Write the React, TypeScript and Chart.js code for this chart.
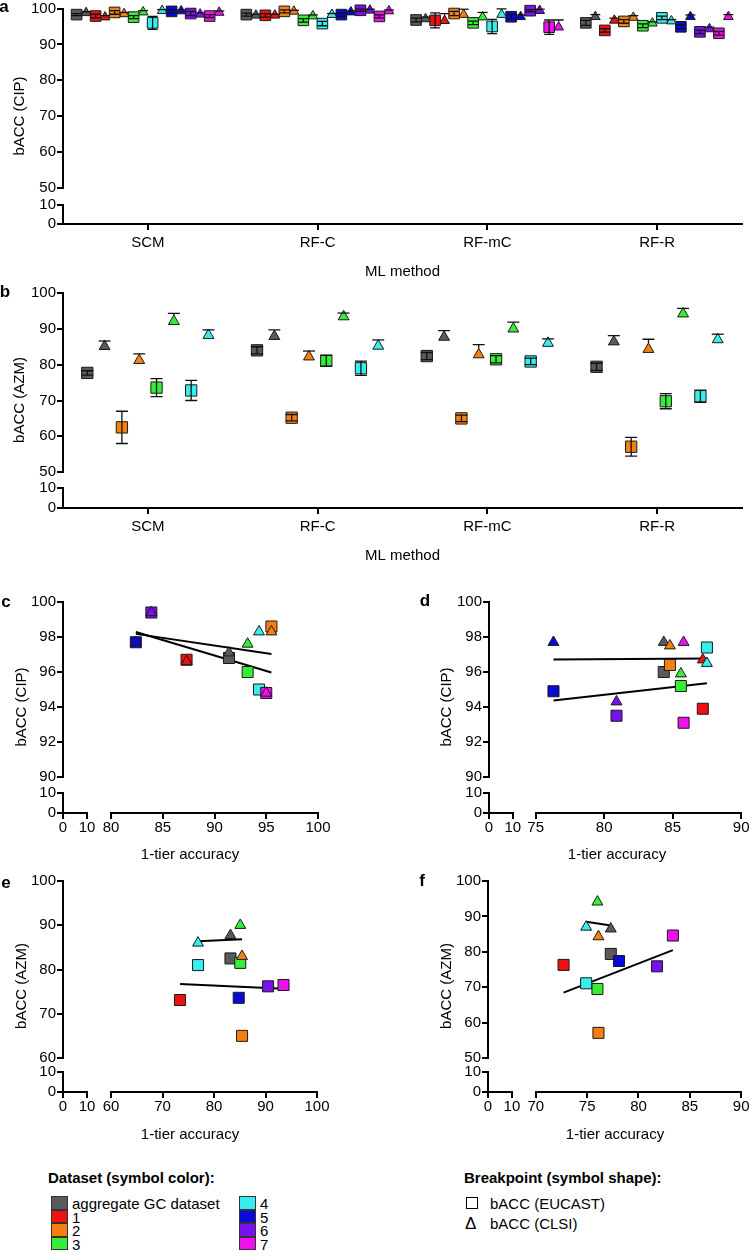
import React, { useEffect, useRef } from 'react';
import { Chart, registerables } from 'chart.js';

Chart.register(...registerables);

const FONT = 'Arial, "Liberation Sans", Helvetica, sans-serif';

// ---------------- data ----------------
const datasetNames = ['aggregate GC dataset', '1', '2', '3', '4', '5', '6', '7'];
const datasetColors = ['#5a5a5a', '#ee1111', '#f58010', '#36ee36', '#36eeee', '#0a0ad8', '#7a10ee', '#ee10ee'];
const methods = ['SCM', 'RF-C', 'RF-mC', 'RF-R'];

// Panel a: bACC (CIP); rows = ML method, columns = dataset
const cipEucast = [
  [98.3, 97.9, 98.9, 97.6, 96.0, 99.2, 98.6, 97.9],
  [98.3, 98.1, 99.2, 96.7, 95.8, 98.3, 99.5, 97.8],
  [96.8, 96.7, 98.6, 96.0, 95.0, 97.7, 99.4, 94.8],
  [96.0, 93.9, 96.4, 95.2, 97.4, 94.9, 93.5, 93.1],
];
const cipEucastSd = [
  [0.3, 0.5, 0.5, 0.4, 1.8, 0.4, 0.6, 0.4],
  [0.4, 0.5, 0.4, 0.5, 0.6, 0.5, 0.3, 0.4],
  [0.5, 2.1, 0.6, 0.5, 2.0, 0.6, 0.3, 2.0],
  [0.7, 0.5, 0.5, 0.5, 0.5, 0.5, 0.5, 0.5],
];
const cipClsi = [
  [98.8, 97.6, 98.5, 99.0, 99.4, 99.3, 98.4, 98.9],
  [98.1, 98.1, 99.2, 97.9, 98.3, 99.0, 99.5, 99.3],
  [97.1, 96.6, 98.3, 97.6, 98.3, 97.7, 99.4, 94.8],
  [97.7, 96.7, 97.5, 95.9, 96.5, 97.7, 94.3, 97.7],
];
const cipClsiSd = [
  [0.3, 0.4, 0.4, 0.4, 0.3, 0.3, 0.4, 0.4],
  [0.3, 0.3, 0.3, 0.3, 0.3, 0.3, 0.3, 0.3],
  [0.5, 2.0, 1.5, 1.3, 1.6, 0.5, 0.4, 2.0],
  [0.6, 0.6, 0.5, 0.4, 0.4, 0.5, 0.5, 0.6],
];

// Panel b: bACC (AZM); datasets shown = aggregate, 2, 3, 4
const azmDatasetIdx = [0, 2, 3, 4];
const azmEucast = [
  [77.7, 62.5, 73.6, 72.8],
  [84.0, 65.2, 81.1, 79.0],
  [82.4, 65.0, 81.5, 80.9],
  [79.4, 57.1, 69.8, 71.2],
];
const azmEucastSd = [
  [0.6, 4.5, 2.5, 2.8],
  [1.0, 0.9, 1.5, 2.0],
  [1.0, 0.9, 1.0, 0.9],
  [1.0, 2.6, 2.1, 1.7],
];
const azmClsi = [
  [85.1, 81.2, 92.1, 88.2],
  [87.9, 82.2, 93.4, 85.2],
  [87.7, 82.8, 90.0, 86.0],
  [86.4, 84.3, 94.2, 87.0],
];
const azmClsiSd = [
  [1.5, 1.8, 2.2, 1.5],
  [1.8, 1.6, 1.0, 1.7],
  [1.8, 2.8, 1.9, 1.2],
  [1.7, 2.8, 1.5, 1.5],
];

// Panels c-f: 1-tier accuracy per dataset
const cAccuracy = [91.4, 87.3, 95.5, 93.2, 94.3, 82.4, 83.9, 95.0]; // CIP, RF-mC
const dAccuracy = [84.35, 87.2, 84.8, 85.6, 87.5, 76.3, 80.9, 85.8]; // CIP, RF-R
const eAccuracy = [83.2, 73.4, 85.45, 85.1, 76.9, 84.8, 90.5, 93.5]; // AZM, RF-mC
const eEucast = [82.5, 73.1, 65.0, 81.5, 81.0, 73.6, 76.2, 76.5];
const eClsi = [87.7, null, 83.0, 90.0, 86.0, null, null, null];
const fAccuracy = [77.3, 72.7, 76.1, 76.0, 74.9, 78.1, 81.8, 83.35]; // AZM, RF-R
const fEucast = [79.4, 76.3, 57.1, 69.5, 71.1, 77.4, 75.9, 84.6];
const fClsi = [86.5, null, 84.3, 94.1, 87.0, null, null, null];

// tick values
const lowTicks = [0, 10];
const abYTicks = [50, 60, 70, 80, 90, 100];
const cdYTicks = [90, 92, 94, 96, 98, 100];
const cXTicks = [80, 85, 90, 95, 100];
const dXTicks = [75, 80, 85, 90];
const eYTicks = [60, 70, 80, 90, 100];
const eXTicks = [60, 70, 80, 90, 100];
const fYTicks = [50, 60, 70, 80, 90, 100];
const fXTicks = [70, 75, 80, 85, 90];

// ---------------- layout ----------------
type Geom = {
  left: number; top: number; w: number; h: number;
  padTop: number; padRight: number; yWidth: number;
  yWeights: number[]; xWeights?: number[]; xHeight: number; xPad: number;
};
const geomA: Geom = { left: 0, top: 0, w: 751, h: 290, padTop: 8, padRight: 9, yWidth: 63, yWeights: [180, 17, 19], xHeight: 66, xPad: 5 };
const geomB: Geom = { left: 0, top: 284, w: 751, h: 290, padTop: 8, padRight: 9, yWidth: 63, yWeights: [180, 16, 20], xHeight: 66, xPad: 5 };
const geomC: Geom = { left: 0, top: 590, w: 380, h: 270, padTop: 12, padRight: 62, yWidth: 63, yWeights: [175, 16, 20], xWeights: [24, 24, 207], xHeight: 47, xPad: 1.5 };
const geomD: Geom = { left: 427, top: 590, w: 324, h: 270, padTop: 12, padRight: 8, yWidth: 62, yWeights: [175, 16, 20], xWeights: [24, 23, 207], xHeight: 47, xPad: 1.5 };
const geomE: Geom = { left: 0, top: 867, w: 380, h: 270, padTop: 14, padRight: 63, yWidth: 63, yWeights: [177, 14, 20], xWeights: [24, 24, 206], xHeight: 45, xPad: 1.5 };
const geomF: Geom = { left: 427, top: 867, w: 324, h: 270, padTop: 14, padRight: 9, yWidth: 61, yWeights: [177, 14, 20], xWeights: [24, 24, 206], xHeight: 45, xPad: 1.5 };

const SLOT_A = 0.056;
const SLOT_B = 0.102;

// ---------------- helpers ----------------
const errorBarPlugin = {
  id: 'errorBars',
  afterDatasetsDraw(chart: any, _args: any, opts: any) {
    const ctx = chart.ctx;
    const cap = opts && opts.cap ? opts.cap : 5;
    chart.data.datasets.forEach((ds: any, di: number) => {
      if (!ds.sd) return;
      const meta = chart.getDatasetMeta(di);
      const xs = chart.scales[meta.xAxisID];
      const ys = chart.scales[meta.yAxisID];
      ctx.save();
      ctx.strokeStyle = '#111';
      ctx.lineWidth = 1.3;
      ds.data.forEach((p: any, i: number) => {
        const e = ds.sd[i];
        if (p == null || e == null) return;
        const x = xs.getPixelForValue(p.x);
        const yc = ys.getPixelForValue(p.y);
        const yt = ys.getPixelForValue(p.y + e);
        ctx.beginPath();
        if (ds.sdUpOnly) {
          const start = yc - ds.pointRadius;
          if (yt < start) {
            ctx.moveTo(x, yt); ctx.lineTo(x, start);
          }
          ctx.moveTo(x - cap, yt); ctx.lineTo(x + cap, yt);
        } else {
          const yb = ys.getPixelForValue(p.y - e);
          ctx.moveTo(x, yt); ctx.lineTo(x, yb);
          ctx.moveTo(x - cap, yt); ctx.lineTo(x + cap, yt);
          ctx.moveTo(x - cap, yb); ctx.lineTo(x + cap, yb);
        }
        ctx.stroke();
      });
      ctx.restore();
    });
  },
};

function tickOpts(display: boolean, padding: number, labels?: string[]) {
  return {
    display, padding, color: '#000',
    font: { family: FONT, size: 15, lineHeight: 1 },
    maxRotation: 0, minRotation: 0, autoSkip: false,
    callback: (v: number) => (labels ? (labels[v] ?? '') : String(v)),
  };
}
function gridOpts(display: boolean) {
  return { display, drawOnChartArea: false, drawTicks: true, tickLength: 6, lineWidth: 2, color: '#000' };
}

function segScale(axis: 'x' | 'y', weight: number, min: number, max: number, ticks: number[] | null, size: number, pad: number) {
  const show = ticks !== null;
  const t = ticks ?? [min];
  return {
    type: 'linear', axis, position: axis === 'x' ? 'bottom' : 'left',
    stack: axis + 'stack', stackWeight: weight, min, max,
    afterBuildTicks: (s: any) => { s.ticks = t.map((v) => ({ value: v })); },
    afterFit: (s: any) => { if (axis === 'x') s.height = size; else s.width = size; },
    ticks: tickOpts(show, pad),
    grid: gridOpts(show),
    border: { display: show, color: '#000', width: 2 },
  };
}

function yStack(g: Geom, mainTicks: number[]) {
  return {
    yLow: segScale('y', g.yWeights[2], 0, 10, lowTicks, g.yWidth, 1),
    yGap: segScale('y', g.yWeights[1], 0, 1, null, g.yWidth, 1),
    y: segScale('y', g.yWeights[0], mainTicks[0], mainTicks[mainTicks.length - 1], mainTicks, g.yWidth, 1),
  };
}

function baseOptions(g: Geom, scales: any, cap: number) {
  return {
    responsive: false, animation: false, devicePixelRatio: 1, events: [],
    layout: { padding: { top: g.padTop, right: g.padRight, bottom: 0, left: 0 } },
    plugins: { legend: { display: false }, tooltip: { enabled: false }, errorBars: { cap } },
    scales,
  };
}

type Series = { color: string; shape: 'rect' | 'triangle'; values: number[]; sd: number[] };

function buildCategory(series: Series[], slot: number, rSq: number, rTri: number, cap: number, g: Geom) {
  const n = series.length;
  const datasets = series.map((s, k) => ({
    data: s.values.map((v, m) => ({ x: m + (k - (n - 1) / 2) * slot, y: v })),
    sd: s.sd, sdUpOnly: s.shape === 'triangle',
    pointStyle: s.shape, pointRadius: s.shape === 'rect' ? rSq : rTri,
    pointBackgroundColor: s.color, pointBorderColor: '#1a1a1a', pointBorderWidth: 1,
    showLine: false, clip: false, xAxisID: 'x', yAxisID: 'y',
  }));
  const scales = {
    x: {
      type: 'linear', axis: 'x', position: 'bottom', min: -0.5, max: 3.5,
      afterBuildTicks: (s: any) => { s.ticks = methods.map((_, i) => ({ value: i })); },
      afterFit: (s: any) => { s.height = g.xHeight; },
      ticks: tickOpts(true, g.xPad, methods),
      grid: gridOpts(true),
      border: { display: true, color: '#000', width: 2 },
      title: { display: true, text: 'ML method', color: '#000', font: { family: FONT, size: 15 }, padding: { top: 0, bottom: 9 } },
    },
    ...yStack(g, abYTicks),
  };
  return { type: 'scatter', data: { datasets }, options: baseOptions(g, scales, cap), plugins: [errorBarPlugin] };
}

function fitLine(xs: number[], ys: (number | null)[]) {
  const pts = xs.map((x, i) => [x, ys[i]] as [number, number | null]).filter((p) => p[1] != null) as [number, number][];
  const n = pts.length;
  const mx = pts.reduce((a, p) => a + p[0], 0) / n;
  const my = pts.reduce((a, p) => a + p[1], 0) / n;
  let sxy = 0, sxx = 0;
  pts.forEach((p) => { sxy += (p[0] - mx) * (p[1] - my); sxx += (p[0] - mx) ** 2; });
  const b = sxx ? sxy / sxx : 0;
  const x0 = Math.min(...pts.map((p) => p[0]));
  const x1 = Math.max(...pts.map((p) => p[0]));
  return [{ x: x0, y: my + b * (x0 - mx) }, { x: x1, y: my + b * (x1 - mx) }];
}

function buildScatter(acc: number[], eu: (number | null)[], cl: (number | null)[], yTicks: number[], xTicks: number[], g: Geom) {
  const idx = acc.map((_, i) => i);
  const sq = idx.filter((i) => eu[i] != null);
  const tr = idx.filter((i) => cl[i] != null);
  const common = { showLine: false, clip: false, xAxisID: 'x', yAxisID: 'y', pointBorderColor: '#1a1a1a', pointBorderWidth: 1 };
  const lineCommon = { type: 'line', borderColor: '#000', borderWidth: 2, pointRadius: 0, fill: false, showLine: true, clip: false, xAxisID: 'x', yAxisID: 'y', order: 2 };
  const datasets = [
    { ...common, order: 0, data: tr.map((i) => ({ x: acc[i], y: cl[i] })), pointStyle: 'triangle', pointRadius: 6.3, pointBackgroundColor: tr.map((i) => datasetColors[i]) },
    { ...common, order: 1, data: sq.map((i) => ({ x: acc[i], y: eu[i] })), pointStyle: 'rect', pointRadius: 7.8, pointBackgroundColor: sq.map((i) => datasetColors[i]) },
    { ...lineCommon, data: fitLine(acc, cl) },
    { ...lineCommon, data: fitLine(acc, eu) },
  ];
  const xw = g.xWeights as number[];
  const scales = {
    xLow: segScale('x', xw[0], 0, 10, lowTicks, g.xHeight, g.xPad),
    xGap: segScale('x', xw[1], 0, 1, null, g.xHeight, g.xPad),
    x: segScale('x', xw[2], xTicks[0], xTicks[xTicks.length - 1], xTicks, g.xHeight, g.xPad),
    ...yStack(g, yTicks),
  };
  return { type: 'scatter', data: { datasets }, options: baseOptions(g, scales, 5) };
}

function seriesA(): Series[] {
  const out: Series[] = [];
  datasetColors.forEach((c, d) => {
    out.push({ color: c, shape: 'rect', values: cipEucast.map((r) => r[d]), sd: cipEucastSd.map((r) => r[d]) });
    out.push({ color: c, shape: 'triangle', values: cipClsi.map((r) => r[d]), sd: cipClsiSd.map((r) => r[d]) });
  });
  return out;
}
function seriesB(): Series[] {
  const out: Series[] = [];
  azmDatasetIdx.forEach((d, j) => {
    out.push({ color: datasetColors[d], shape: 'rect', values: azmEucast.map((r) => r[j]), sd: azmEucastSd.map((r) => r[j]) });
    out.push({ color: datasetColors[d], shape: 'triangle', values: azmClsi.map((r) => r[j]), sd: azmClsiSd.map((r) => r[j]) });
  });
  return out;
}

function ChartCanvas({ g, build }: { g: Geom; build: () => any }) {
  const ref = useRef<HTMLCanvasElement>(null);
  useEffect(() => {
    const chart = new Chart(ref.current as HTMLCanvasElement, build());
    return () => chart.destroy();
  }, []);
  return <canvas ref={ref} width={g.w} height={g.h} style={{ position: 'absolute', left: g.left, top: g.top, width: g.w, height: g.h }} />;
}

function Txt({ x, y, children, bold, size, anchor }: any) {
  const tx = anchor === 'left' ? '0' : '-50%';
  return (
    <div style={{
      position: 'absolute', left: x, top: y, whiteSpace: 'nowrap', lineHeight: 1,
      fontSize: size ?? 15, fontWeight: bold ? 'bold' : 'normal',
      transform: `translate(${tx}, -50%)`,
    }}>{children}</div>
  );
}

function RotTxt({ x, y, children }: any) {
  return (
    <div style={{
      position: 'absolute', left: x, top: y, whiteSpace: 'nowrap', lineHeight: 1, fontSize: 15,
      transform: 'translate(-50%, -50%) rotate(-90deg)',
    }}>{children}</div>
  );
}

export default function App() {
  const legendRows = [1203, 1216.5, 1230, 1243.5];
  return (
    <div style={{ position: 'absolute', left: 0, top: 0, width: 751, height: 1259, background: '#fff', overflow: 'hidden', fontFamily: FONT, color: '#000' }}>
      <ChartCanvas g={geomA} build={() => buildCategory(seriesA(), SLOT_A, 7.5, 5.6, 5, geomA)} />
      <ChartCanvas g={geomB} build={() => buildCategory(seriesB(), SLOT_B, 8, 6.3, 6, geomB)} />
      <ChartCanvas g={geomC} build={() => buildScatter(cAccuracy, cipEucast[2], cipClsi[2], cdYTicks, cXTicks, geomC)} />
      <ChartCanvas g={geomD} build={() => buildScatter(dAccuracy, cipEucast[3], cipClsi[3], cdYTicks, dXTicks, geomD)} />
      <ChartCanvas g={geomE} build={() => buildScatter(eAccuracy, eEucast, eClsi, eYTicks, eXTicks, geomE)} />
      <ChartCanvas g={geomF} build={() => buildScatter(fAccuracy, fEucast, fClsi, fYTicks, fXTicks, geomF)} />

      <Txt x={4} y={6} bold size={17}>a</Txt>
      <Txt x={5} y={291} bold size={17}>b</Txt>
      <Txt x={6} y={601} bold size={17}>c</Txt>
      <Txt x={425} y={600} bold size={17}>d</Txt>
      <Txt x={6} y={882} bold size={17}>e</Txt>
      <Txt x={422} y={880} bold size={17}>f</Txt>

      <RotTxt x={18} y={116}>bACC (CIP)</RotTxt>
      <RotTxt x={18} y={400}>bACC (AZM)</RotTxt>
      <RotTxt x={20} y={707}>bACC (CIP)</RotTxt>
      <RotTxt x={445} y={707}>bACC (CIP)</RotTxt>
      <RotTxt x={20} y={986}>bACC (AZM)</RotTxt>
      <RotTxt x={445} y={986}>bACC (AZM)</RotTxt>

      <Txt x={190} y={853}>1-tier accuracy</Txt>
      <Txt x={617} y={853}>1-tier accuracy</Txt>
      <Txt x={190} y={1133}>1-tier accuracy</Txt>
      <Txt x={615} y={1133}>1-tier accuracy</Txt>

      <Txt x={48} y={1177} bold anchor="left">Dataset (symbol color):</Txt>
      {datasetNames.map((name, i) => {
        const col = i < 4 ? 0 : 1;
        const row = i % 4;
        const bx = col === 0 ? 51 : 239;
        return (
          <React.Fragment key={name}>
            <div style={{ position: 'absolute', left: bx, top: legendRows[row] - 6.75, width: 17, height: 13.5, boxSizing: 'border-box', background: datasetColors[i], border: '1px solid #333' }} />
            <Txt x={bx + 21} y={legendRows[row]} anchor="left">{name}</Txt>
          </React.Fragment>
        );
      })}
      <Txt x={464} y={1177} bold anchor="left">Breakpoint (symbol shape):</Txt>
      <div style={{ position: 'absolute', left: 466, top: 1197, width: 12, height: 12, boxSizing: 'border-box', border: '1.5px solid #000' }} />
      <Txt x={490} y={1203} anchor="left">bACC (EUCAST)</Txt>
      <Txt x={465} y={1223} anchor="left" size={17}>Δ</Txt>
      <Txt x={490} y={1223} anchor="left">bACC (CLSI)</Txt>
    </div>
  );
}
